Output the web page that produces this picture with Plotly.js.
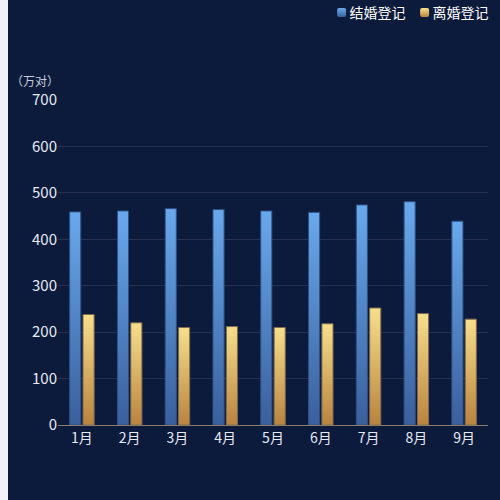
<!DOCTYPE html>
<html>
<head>
<meta charset="utf-8">
<script src="https://cdn.plot.ly/plotly-3.0.1.min.js"></script>
<style>
html,body{margin:0;padding:0;background:#f1f3f9;width:500px;height:500px;overflow:hidden;}
#chart{position:absolute;left:8px;top:0;width:492px;height:500px;background:#0c1a3b;}
</style>
</head>
<body>
<div id="chart"></div>
<script>
const months = ['1月','2月','3月','4月','5月','6月','7月','8月','9月'];
const seriesNames = ['结婚登记','离婚登记'];
const marriage = [459, 461, 466, 464, 461, 458, 474, 481, 439];
const divorce = [238, 220, 210, 212, 210, 218, 252, 240, 228];
const yUnit = '（万对）';

const font = "'Noto Sans CJK SC', 'Noto Sans', sans-serif";
const traces = [
  {type:'bar', name:seriesNames[0], x:months, y:marriage,
   marker:{color:'#5b93d8', line:{color:'#2f5186', width:1}}, hoverinfo:'none'},
  {type:'bar', name:seriesNames[1], x:months, y:divorce,
   marker:{color:'#dcb066', line:{color:'#7f6a4e', width:1}}, hoverinfo:'none'}
];
const layout = {
  width:492, height:500,
  paper_bgcolor:'#0c1a3b', plot_bgcolor:'#0c1a3b',
  margin:{l:50, r:12, t:100, b:75, autoexpand:false},
  barmode:'group', bargap:0.44, bargroupgap:0.17,
  font:{family:font, color:'#e6ebf5', size:14},
  showlegend:true,
  legend:{orientation:'h', x:1.02, xanchor:'right', y:1+103/325, yanchor:'top',
    font:{size:14, color:'#ffffff'}, itemwidth:30, tracegroupgap:0, bgcolor:'rgba(0,0,0,0)'},
  xaxis:{showline:true, linecolor:'#8c7d6a', linewidth:1, ticks:'', showgrid:false,
    tickfont:{size:14, color:'#e6ebf5'}, zeroline:false, automargin:false},
  yaxis:{range:[0,700], dtick:100, showgrid:true, gridcolor:'#27314f', gridwidth:1,
    zeroline:false, showline:false, ticks:'', tickfont:{size:15, color:'#e6ebf5'}, automargin:false},
  annotations:[{text:yUnit, xref:'paper', yref:'paper', x:-49/430, y:1+19/325,
    xanchor:'left', yanchor:'middle', showarrow:false, font:{size:12, color:'#c8cedc'}}]
};
Plotly.newPlot('chart', traces, layout, {displayModeBar:false, staticPlot:true}).then(function(gd){
  const svgNS='http://www.w3.org/2000/svg';
  const svg=gd.querySelector('.main-svg');
  const defs=document.createElementNS(svgNS,'defs');
  function grad(id, c1, c2){
    const g=document.createElementNS(svgNS,'linearGradient');
    g.setAttribute('id',id); g.setAttribute('x1','0'); g.setAttribute('y1','0');
    g.setAttribute('x2','0'); g.setAttribute('y2','1');
    [[0,c1],[1,c2]].forEach(function(s){
      const st=document.createElementNS(svgNS,'stop');
      st.setAttribute('offset',s[0]); st.setAttribute('stop-color',s[1]);
      g.appendChild(st);
    });
    defs.appendChild(g);
  }
  grad('gBlue','#68a9ec','#3a5f9c');
  grad('gGold','#f7df8c','#b9833f');
  svg.insertBefore(defs, svg.firstChild);
  const ids=['gBlue','gGold'];
  gd.querySelectorAll('.barlayer .trace').forEach(function(t,i){
    t.querySelectorAll('path').forEach(function(p){p.style.fill='url(#'+ids[i]+')';});
  });
  const shifts=[15,-3];
  gd.querySelectorAll('.legend .traces').forEach(function(t,i){
    const tr=t.getAttribute('transform')||'';
    const m=tr.match(/translate\(\s*([-\d.e]+)[ ,]+([-\d.e]+)\s*\)/);
    if(m){ t.setAttribute('transform','translate('+(parseFloat(m[1])+shifts[i])+','+m[2]+')'); }
    const lp=t.querySelector('.legendpoints');
    if(lp){ lp.setAttribute('transform','translate(12,0)'); }
    t.querySelectorAll('.legendpoints path').forEach(function(p){
      p.style.fill='url(#'+ids[i]+')';
      p.setAttribute('d','M4.5,2.5A2,2 0 0 1 2.5,4.5H-2.5A2,2 0 0 1 -4.5,2.5V-2.5A2,2 0 0 1 -2.5,-4.5H2.5A2,2 0 0 1 4.5,-2.5Z');
      p.style.strokeWidth='0';
    });
  });
});
</script>
</body>
</html>
